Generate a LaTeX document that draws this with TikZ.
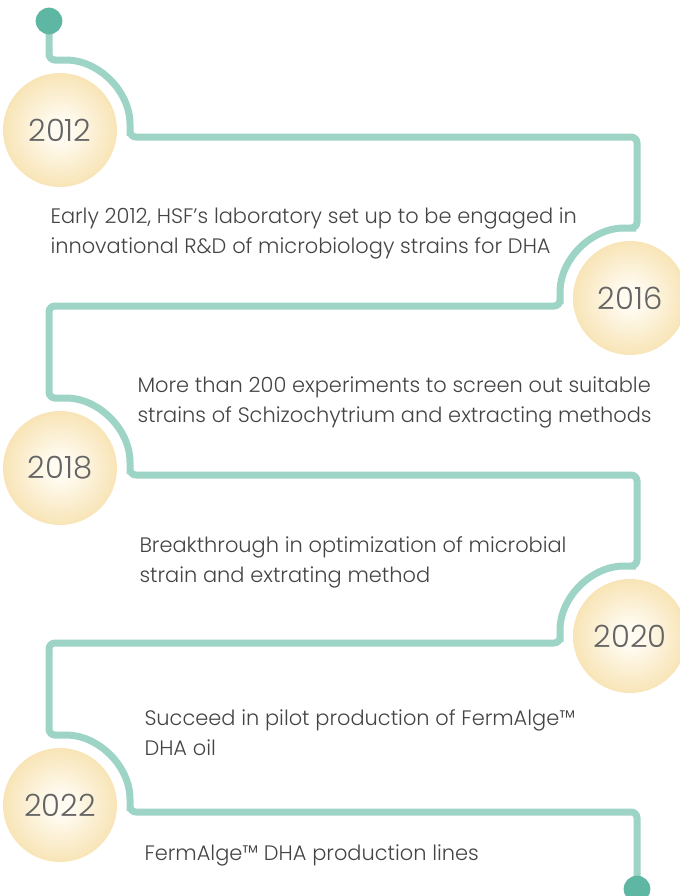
\documentclass[tikz,border=0pt]{standalone}
\usepackage{fontspec}
\setmainfont{Poppins Light}

\definecolor{pathgreen}{RGB}{157,212,197}
\definecolor{dotgreen}{RGB}{94,183,163}
\definecolor{yeargray}{RGB}{100,100,100}
\definecolor{bodygray}{RGB}{68,68,68}
\definecolor{ballcore}{RGB}{255,251,240}
\definecolor{ballmid}{RGB}{247,225,174}
\definecolor{balledge}{RGB}{240,207,138}
\pgfdeclareradialshading{yearglow}{\pgfpoint{0bp}{0bp}}{color(0bp)=(ballcore); color(5bp)=(ballcore); color(28bp)=(ballmid); color(50bp)=(balledge)}

\tikzset{every picture/.style={line width=0.75pt}}
\tikzset{
  yearball/.style={circle, minimum size=85.5pt, inner sep=0pt, shade, shading=yearglow, text=yeargray, font=\fontsize{23}{27}\selectfont},
  endpoint/.style={circle, fill=dotgreen, minimum size=20pt, inner sep=0pt},
  milestone/.style={anchor=base west, inner sep=0pt, align=left, text=bodygray, font=\fontsize{15.7}{22.5}\selectfont},
  timeline/.style={draw=pathgreen, line width=5.25pt, rounded corners=4.5pt}
}

\begin{document}
\begin{tikzpicture}[x=0.75pt,y=0.75pt,yscale=-1,xscale=1]
\useasboundingbox (0,0) rectangle (680,896);

%Shape: Circle [id:year2012] 
\node [yearball] (y2012) at (60,130) {2012};
%Shape: Circle [id:year2016] 
\node [yearball] (y2016) at (630,298) {2016};
%Shape: Circle [id:year2018] 
\node [yearball] (y2018) at (60,468) {2018};
%Shape: Circle [id:year2020] 
\node [yearball] (y2020) at (630,636) {2020};
%Shape: Circle [id:year2022] 
\node [yearball] (y2022) at (60,805) {2022};

%Shape: Circle [id:start] 
\coordinate (start) at (49,21);
%Shape: Circle [id:finish] 
\coordinate (finish) at (637,889);

%Curve Lines [id:timeline] 
\draw [timeline] (start) -- (49,60) -- (60,60) arc [start angle=-90, end angle=0, radius=70] -- (130,137) -- (637,137) -- (637,228) -- (630,228) arc [start angle=-90, end angle=-180, radius=70] -- (560,306) -- (49,306)
  -- (49,398) -- (60,398) arc [start angle=-90, end angle=0, radius=70] -- (130,475) -- (637,475) -- (637,566) -- (630,566) arc [start angle=-90, end angle=-180, radius=70] -- (560,643) -- (49,643)
  -- (49,735) -- (60,735) arc [start angle=-90, end angle=0, radius=70] -- (130,812) -- (637,812) -- (finish) ;

\node [endpoint] (startdot) at (start) {};
\node [endpoint] (finishdot) at (finish) {};

% Text Node
\node [milestone] (m2012) at (50,253) {Early 2012, HSF’s laboratory set up to be engaged in\\innovational R\&D of microbiology strains for DHA};
% Text Node
\node [milestone] (m2016) at (137,422) {More than 200 experiments to screen out suitable\\strains of Schizochytrium and extracting methods};
% Text Node
\node [milestone] (m2018) at (139,582) {Breakthrough in optimization of microbial\\strain and extrating method};
% Text Node
\node [milestone] (m2020) at (144,755) {Succeed in pilot production of FermAlge™\\DHA oil};
% Text Node
\node [milestone] (m2022) at (144,860) {FermAlge™ DHA production lines};

\end{tikzpicture}
\end{document}
